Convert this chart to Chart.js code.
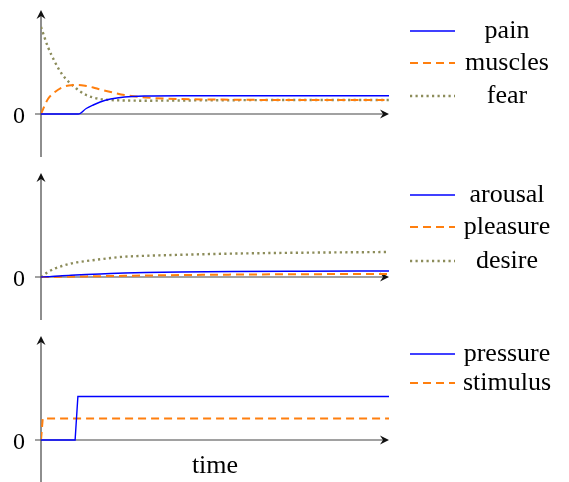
<!DOCTYPE html>
<html>
<head>
<meta charset="utf-8">
<script src="https://cdn.jsdelivr.net/npm/chart.js@4.4.0/dist/chart.umd.min.js"></script>
<style>
  html, body { margin: 0; padding: 0; background: #fff; overflow: hidden; }
  .panel { position: absolute; left: 0; }
</style>
</head>
<body>
<canvas id="c1" class="panel" width="569" height="163" style="top:0"></canvas>
<canvas id="c2" class="panel" width="569" height="163" style="top:163px"></canvas>
<canvas id="c3" class="panel" width="569" height="163" style="top:326px"></canvas>
<script>
// time grid for each panel (0..100 along the x axis)
const time1 = [0, 2, 4, 6, 8, 10, 10.7, 13, 15, 17, 20, 24, 30, 40, 55, 75, 100];
const pain    = [0, 0, 0, 0, 0, 0, 0, 0.055, 0.09, 0.12, 0.15, 0.17, 0.18, 0.183, 0.183, 0.183, 0.183];
const muscles = [0, 0.15, 0.22, 0.265, 0.285, 0.29, 0.29, 0.28, 0.265, 0.245, 0.22, 0.19, 0.165, 0.15, 0.143, 0.14, 0.14];
const fear    = [0.87, 0.67, 0.52, 0.40, 0.32, 0.26, 0.24, 0.19, 0.165, 0.15, 0.14, 0.135, 0.133, 0.135, 0.138, 0.14, 0.14];

const time2 = [0, 2, 4, 6, 8, 10, 13, 17, 20, 24, 30, 40, 55, 75, 100];
const arousal  = [0, 0.003, 0.008, 0.012, 0.016, 0.02, 0.025, 0.03, 0.035, 0.04, 0.045, 0.05, 0.055, 0.058, 0.06];
const pleasure = [0, 0, 0.001, 0.002, 0.003, 0.004, 0.006, 0.008, 0.01, 0.012, 0.015, 0.019, 0.024, 0.028, 0.03];
const desire   = [0, 0.05, 0.085, 0.11, 0.13, 0.145, 0.16, 0.177, 0.19, 0.203, 0.212, 0.222, 0.234, 0.243, 0.25];

const time3 = [0, 0.5, 9.8, 10.6, 100];
const pressure = [0, 0, 0, 0.435, 0.435];
const stimulus = [0, 0.216, 0.216, 0.216, 0.216];

const yTickLabels = ['0'];
const xTitle = 'time';

const FONT = '"Liberation Serif", "Times New Roman", serif';
const BLUE = '#0000ff';
const ORANGE = '#ff7f0e';
const OLIVE = '#8c8c5a';

function arrowHead(ctx, x, y, angle) {
    ctx.save();
    ctx.translate(x, y);
    ctx.rotate(angle);
    ctx.beginPath();
    ctx.moveTo(0, 0);
    ctx.lineTo(-9, -4.5);
    ctx.lineTo(-6, 0);
    ctx.lineTo(-9, 4.5);
    ctx.closePath();
    ctx.fill();
    ctx.restore();
}

// axes with arrows, drawn under the data
const texAxes = {
    id: 'texAxes',
    beforeDatasetsDraw(chart) {
        const ctx = chart.ctx;
        const area = chart.chartArea;
        const zeroY = chart.scales.y.getPixelForValue(0);
        const x0 = chart.scales.x.getPixelForValue(0);
        ctx.save();
        ctx.strokeStyle = '#444';
        ctx.fillStyle = '#111';
        ctx.lineWidth = 1.2;
        ctx.beginPath();
        ctx.moveTo(x0 - 6, zeroY);
        ctx.lineTo(area.right - 3, zeroY);
        ctx.moveTo(x0, area.bottom);
        ctx.lineTo(x0, area.top + 3);
        ctx.stroke();
        arrowHead(ctx, area.right, zeroY, 0);
        arrowHead(ctx, x0, area.top, -Math.PI / 2);
        ctx.restore();
    },
    afterDraw(chart, args, opts) {
        const ctx = chart.ctx;
        const zeroY = chart.scales.y.getPixelForValue(0);
        const area = chart.chartArea;
        ctx.save();
        ctx.fillStyle = '#000';
        ctx.textAlign = 'center';
        ctx.textBaseline = 'alphabetic';
        ctx.font = '24px ' + FONT;
        ctx.fillText(yTickLabels[0], 19, zeroY + 8.5);

        ctx.font = '26px ' + FONT;
        if (opts.title) {
            ctx.fillText(opts.title, (area.left + area.right) / 2, zeroY + 33);
        }
        // legend on the right
        chart.data.datasets.forEach((ds, i) => {
            const y = opts.legendY[i];
            ctx.save();
            ctx.strokeStyle = ds.borderColor;
            ctx.lineWidth = ds.borderWidth;
            ctx.setLineDash(ds.borderDash || []);
            ctx.beginPath();
            ctx.moveTo(410, y);
            ctx.lineTo(455, y);
            ctx.stroke();
            ctx.restore();
            ctx.fillText(ds.label, 507, y + 6.5);
        });
        ctx.restore();
    }
};

function series(label, xs, ys, style) {
    return Object.assign({
        label: label,
        data: xs.map((x, i) => ({ x: x, y: ys[i] })),
        fill: false,
        pointRadius: 0
    }, style);
}

const solid = { borderColor: BLUE, borderWidth: 1.4 };
const dashed = { borderColor: ORANGE, borderWidth: 2, borderDash: [8, 5] };
const dotted = { borderColor: OLIVE, borderWidth: 2.4, borderDash: [2.2, 3.3] };

function makePanel(id, datasets, legendY, smooth, title) {
    datasets.forEach(ds => {
        if (smooth) ds.cubicInterpolationMode = 'monotone';
        else ds.tension = 0;
    });
    return new Chart(document.getElementById(id).getContext('2d'), {
        type: 'line',
        data: { datasets: datasets },
        options: {
            responsive: false,
            animation: false,
            layout: { padding: { left: 41, right: 180, top: 10, bottom: 6 } },
            scales: {
                x: { type: 'linear', min: 0, max: 100, display: false },
                y: { min: -0.43, max: 1.04, display: false }
            },
            plugins: {
                legend: { display: false },
                tooltip: { enabled: false },
                texAxes: { legendY: legendY, title: title }
            }
        },
        plugins: [texAxes]
    });
}

makePanel('c1', [
    series('pain', time1, pain, solid),
    series('muscles', time1, muscles, dashed),
    series('fear', time1, fear, dotted)
], [31, 63, 96], true, null);

makePanel('c2', [
    series('arousal', time2, arousal, solid),
    series('pleasure', time2, pleasure, dashed),
    series('desire', time2, desire, dotted)
], [32, 64, 98], true, null);

makePanel('c3', [
    series('pressure', time3, pressure, solid),
    series('stimulus', time3, stimulus, dashed)
], [28, 57], false, xTitle);
</script>
</body>
</html>
